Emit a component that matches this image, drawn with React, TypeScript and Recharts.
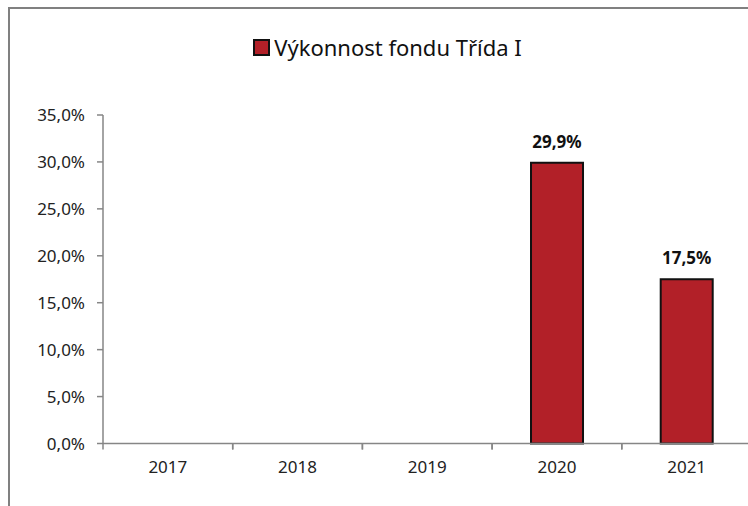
import React from "react";
import { BarChart, Bar, XAxis, YAxis, LabelList } from "recharts";

const years = ["2017", "2018", "2019", "2020", "2021"];
const performance: (number | null)[] = [null, null, null, 29.9, 17.5];
const yTicks = [0, 5, 10, 15, 20, 25, 30, 35];
const seriesName = "Výkonnost fondu Třída I";

const data = years.map((y, i) => ({ year: y, value: performance[i] }));

const FONT = "'Noto Sans', sans-serif";
const AXIS = "#868686";
const BAR = "#B22028";

const W = 760;
const H = 510;
const YW = 95;
const ML = 103 - YW;
const MR = 8.5;
const XH = H - 443.5;
const halfBand = (W - 103 - MR) / years.length / 2;

const fmt = (v: number) => v.toFixed(1).replace(".", ",") + "%";

const XTick = (props: any) => {
  const { x, y, payload } = props;
  return (
    <g>
      <line x1={x - halfBand} x2={x - halfBand} y1={y - 8} y2={y - 2} stroke={AXIS} strokeWidth={1.5} />
      <line x1={x + halfBand} x2={x + halfBand} y1={y - 8} y2={y - 2} stroke={AXIS} strokeWidth={1.5} />
      <text x={x} y={y + 21} textAnchor="middle" fontFamily={FONT} fontSize={17} fill="#222">
        {payload.value}
      </text>
    </g>
  );
};

export default function App() {
  return (
    <div style={{ position: "fixed", left: 0, top: 0, width: 748, height: 506, overflow: "hidden", background: "#fff" }}>
      <div
        style={{
          position: "absolute",
          left: 0,
          top: 33,
          width: 775,
          display: "flex",
          justifyContent: "center",
          alignItems: "center",
          fontFamily: FONT,
        }}
      >
        <span
          style={{
            display: "inline-block",
            width: 13,
            height: 13,
            background: BAR,
            border: "2px solid #111",
            marginRight: 4,
          }}
        />
        <span style={{ fontSize: 22, color: "#111", lineHeight: "28px" }}>{seriesName}</span>
      </div>
      <div style={{ position: "absolute", left: 0, top: 0 }}>
        <BarChart
          width={W}
          height={H}
          data={data}
          margin={{ top: 115, right: MR, bottom: 0, left: ML }}
          barCategoryGap="30%"
        >
          <XAxis
            dataKey="year"
            axisLine={{ stroke: AXIS, strokeWidth: 1.5 }}
            tickLine={false}
            tick={<XTick />}
            interval={0}
            height={XH}
          />
          <YAxis
            domain={[0, 35]}
            ticks={yTicks}
            width={YW}
            axisLine={{ stroke: AXIS, strokeWidth: 1.5 }}
            tickLine={{ stroke: AXIS, strokeWidth: 1.5 }}
            tickSize={6}
            tickFormatter={fmt}
            tick={{ fontFamily: FONT, fontSize: 17, fill: "#222" }}
            tickMargin={12}
          />
          <Bar dataKey="value" name={seriesName} fill={BAR} stroke="#111" strokeWidth={2} isAnimationActive={false}>
            <LabelList
              dataKey="value"
              position="top"
              offset={15}
              formatter={(v: any) => (v == null ? "" : fmt(Number(v)))}
              style={{ fontFamily: FONT, fontSize: 17, fontWeight: 700, fill: "#111" }}
            />
          </Bar>
        </BarChart>
      </div>
      <div style={{ position: "absolute", left: 8, top: 7, width: 740, height: 2, background: "#808080", zIndex: 20 }} />
      <div style={{ position: "absolute", left: 8, top: 7, width: 2, height: 499, background: "#808080", zIndex: 20 }} />
    </div>
  );
}
